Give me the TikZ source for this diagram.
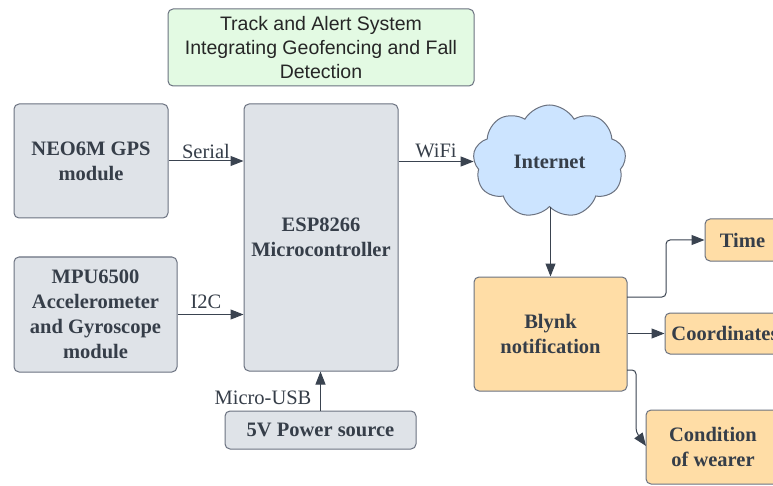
\documentclass[tikz,border=0pt]{standalone}
\usepackage{fontspec}
\setmainfont{Liberation Serif}
\newfontfamily\titlefont{Liberation Sans}
\usetikzlibrary{shapes.symbols,arrows.meta}
\definecolor{txt}{HTML}{363E49}
\definecolor{edge}{HTML}{6B7280}
\definecolor{arrc}{HTML}{3A4350}
\definecolor{grayfill}{HTML}{DFE3E8}
\definecolor{peach}{HTML}{FFDDA6}
\definecolor{skyb}{HTML}{CCE4FF}
\definecolor{mint}{HTML}{E3FAE3}
\tikzset{
  blk/.style={draw=edge, line width=1pt, rounded corners=5pt, align=center, text=txt,
    font=\bfseries\fontsize{20.5}{25}\selectfont, inner sep=2pt},
  graybox/.style={blk, fill=grayfill},
  peachbox/.style={blk, fill=peach},
  arr/.style={draw=arrc, line width=1pt, -{Triangle[length=13pt,width=10pt]}},
  lbl/.style={text=txt, font=\fontsize{20.5}{24}\selectfont, inner sep=0pt},
}
\begin{document}
\begin{tikzpicture}[x=1pt,y=-1pt]
\useasboundingbox (0,0) rectangle (773,486);
\clip (0,0) rectangle (773,486);
\fill[white] (0,0) rectangle (773,486);

\node[draw=edge, line width=1pt, rounded corners=5pt, fill=mint, text=black!85, align=center,
  font=\titlefont\fontsize{19.5}{24}\selectfont, minimum width=306pt, minimum height=77pt, inner sep=2pt]
  (title) at (321,47.5) {Track and Alert System\\Integrating Geofencing and Fall\\Detection};

\node[graybox, minimum width=154pt, minimum height=114pt] (neo) at (91,161) {NEO6M GPS\\module};
\node[graybox, minimum width=154pt, minimum height=267pt] (esp) at (321,237.5) {ESP8266\\Microcontroller};
\node[graybox, minimum width=163pt, minimum height=115pt] (mpu) at (95.5,314.5) {MPU6500\\Accelerometer\\and Gyroscope\\module};
\node[graybox, minimum width=191pt, minimum height=38pt] (pwr) at (320.5,430) {5V Power source};

\node[cloud, cloud puffs=9, cloud puff arc=120, aspect=1.35, draw=edge, line width=1pt, fill=skyb,
  text=txt, font=\bfseries\fontsize{20.5}{25}\selectfont, minimum width=153pt, minimum height=113pt, inner sep=0pt]
  (net) at (549.5,161.5) {Internet};

\node[peachbox, minimum width=153pt, minimum height=114pt] (blynk) at (550.5,334) {Blynk\\notification};
\node[peachbox, minimum width=75pt, minimum height=42pt] (time) at (742.5,240) {Time};
\node[peachbox, minimum width=120pt, minimum height=41pt] (coord) at (725,333.5) {Coordinates};
\node[peachbox, minimum width=134pt, minimum height=74pt] (cond) at (713,447) {Condition\\of wearer};

\draw[arr] (neo.east) -- (esp.west |- neo.east);
\node[lbl] (lserial) at (206,151) {Serial};
\draw[arr] (esp.east |- net.west) -- (net.west);
\node[lbl] (lwifi) at (436,151) {WiFi};
\draw[arr] (mpu.east) -- (esp.west |- mpu.east);
\node[lbl] (li2c) at (206,302) {I2C};
\draw[arr] (pwr.north) -- (esp.south -| pwr.north);
\node[lbl] (lusb) at (263,398) {Micro-USB};
\draw[arr] (net.south -| blynk.north) -- (blynk.north);

\coordinate (t0) at (627,297);
\coordinate (t1) at (666,297);
\draw[arr, rounded corners=4pt] (t0) -- (t1) -- (t1 |- time.west) -- (time.west);
\draw[arr] (blynk.east |- coord.west) -- (coord.west);
\coordinate (c0) at (627,370);
\coordinate (c1) at (636,370);
\coordinate (c2) at (636,432);
\coordinate (c3) at (646,446);
\draw[arr, rounded corners=4pt] (c0) -- (c1) -- (c2) -- (c3);
\end{tikzpicture}
\end{document}
